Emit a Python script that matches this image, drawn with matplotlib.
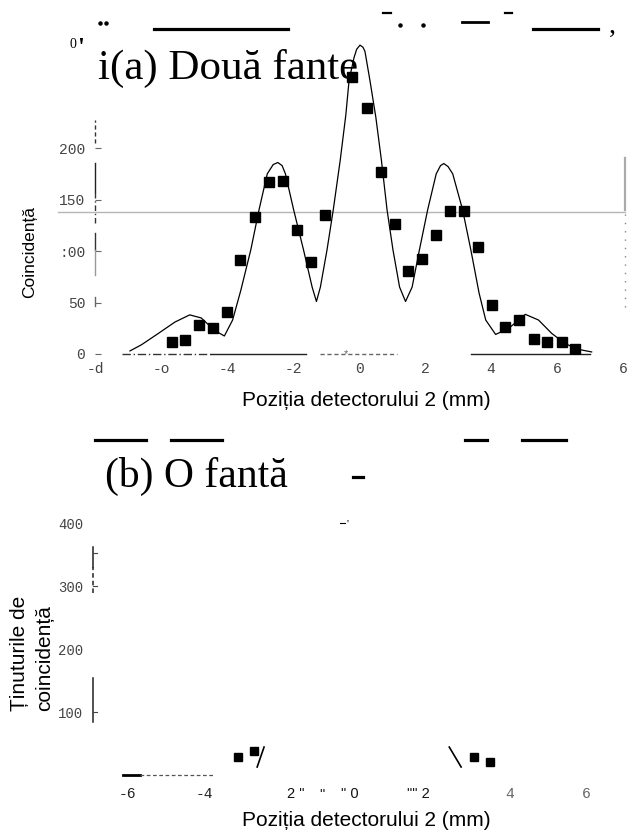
import matplotlib
matplotlib.use("Agg")
import matplotlib.pyplot as plt
from matplotlib.lines import Line2D

W, H = 631, 833
DPI = 100

# ---------------- Panel (a): two slits ----------------
a_x = [-5.68, -5.27, -4.85, -4.43, -4.00, -3.60, -3.16, -2.73, -2.30, -1.89, -1.45, -1.04,
       -0.20, 0.24, 0.66, 1.08, 1.49, 1.90, 2.34, 2.76, 3.19, 3.61, 4.02, 4.43, 4.84, 5.29,
       5.70, 6.14, 6.55]
a_y = [12, 14, 28, 25, 41, 91, 133, 167, 168, 120, 89, 135,
       269, 239, 177, 126, 81, 92, 116, 139, 139, 104, 48, 26, 33, 15,
       12, 12, 5]
a_fit_x = [-6.94, -6.59, -6.08, -5.58, -5.13, -4.78, -4.38, -4.08, -3.83, -3.58, -3.28, -3.03,
           -2.78, -2.60, -2.46, -2.33, -2.23, -1.98, -1.68, -1.42, -1.29, -1.17, -0.97, -0.78,
           -0.57, -0.40, -0.30, -0.15, -0.07, 0.03, 0.12, 0.18, 0.33, 0.51, 0.68, 0.85, 1.03,
           1.23, 1.41, 1.61, 1.83, 2.08, 2.34, 2.47, 2.57, 2.70, 2.84, 3.14, 3.39, 3.64, 3.84,
           4.14, 4.54, 5.04, 5.44, 5.84, 6.25, 6.65, 7.05]
a_fit_y = [3, 9, 20, 31, 38, 35, 23, 17.5, 33, 62, 101, 140,
           175, 184, 186, 183, 175, 140, 101, 65, 51, 65, 101, 140,
           188, 232, 266, 288, 296, 300, 298, 294, 266, 230, 188, 140, 101,
           65, 51, 65, 101, 140, 175, 183, 185, 182, 175, 140, 101, 59, 33,
           19, 25, 38.5, 33, 20, 10, 4.5, 2]
a_ref_level = 138
a_xticks = [-8, -6, -4, -2, 0, 2, 4, 6, 8]
a_xticklabels = ["-d", "-o", "-4", "-2", "0", "2", "4", "6", "6"]
a_yticks = [0, 50, 100, 150, 200]
a_yticklabels = ["0", "50", ":00", "150", "200"]

# ---------------- Panel (b): one slit ----------------
b_x = [-3.11, -2.69, 3.06, 3.48]
b_y = [28.6, 38, 28.6, 20.6]
b_fit_left_x = [-2.61, -2.43]
b_fit_left_y = [12.7, 44.4]
b_fit_right_x = [2.41, 2.72]
b_fit_right_y = [44.4, 12.7]
b_xticks = [-6, -4, -1.6, -0.92, -0.18, 1.6, 4, 6]
b_xticklabels = ["-6", "-4", '2 "', '"', '" 0', '"" 2', "4", "6"]
b_yticks = [100, 200, 300, 400]
b_yticklabels = ["100", "200", "300", "400"]

SANS = "Liberation Sans"
SERIF = "Liberation Serif"
MONO = "Liberation Mono"


def fx(px):
    return px / W


def fy(py):
    return 1 - py / H


fig = plt.figure(figsize=(W / DPI, H / DPI), dpi=DPI)

# ======== Top axes ========
ax = fig.add_axes([fx(95), fy(354), (623 - 95) / W, 314 / H])
ax.set_xlim(-8, 8)
ax.set_ylim(0, 305)
for s in ax.spines.values():
    s.set_visible(False)
ax.plot(a_fit_x, a_fit_y, color="black", lw=0.9, zorder=3)
ax.plot(a_x, a_y, ls="none", marker="s", ms=7, color="black", zorder=4)
ax.set_xticks(a_xticks)
ax.set_xticklabels(a_xticklabels, family=MONO, fontsize=10.5, color="#444")
ax.set_yticks(a_yticks)
ax.set_yticklabels(a_yticklabels, family=MONO, fontsize=10.5, color="#444")
ax.tick_params(axis="x", length=0, pad=6)
ax.tick_params(axis="y", direction="in", length=4, width=0.8, color="#666", pad=7)

# broken left spine
ytr = ax.get_yaxis_transform()
for (y0, y1, ls, c) in [(205, 227, (0, (3, 2)), "#333"), (157, 186, "-", "#222"),
                        (127, 157, (0, (4, 2, 1, 2)), "#333"), (101, 118, "-", "#333"),
                        (77, 101, "-", "#999"), (47, 55, "-", "#666")]:
    ax.plot([0, 0], [y0, y1], transform=ytr, color=c, lw=1, ls=ls, clip_on=False)
# right fragments
ax.plot([1.004, 1.004], [140, 190], transform=ytr, color="#aaa", lw=1.6, clip_on=False)
ax.plot([1.004, 1.004], [46, 140], transform=ytr, color="#888", lw=1, ls=(0, (1, 5)), clip_on=False)
# grey reference line
ax.plot([-0.07, 1.004], [a_ref_level, a_ref_level], transform=ytr, color="#b5b5b5", lw=1, clip_on=False)
# broken bottom axis
for (x0, x1, ls, c) in [(-7.19, -4.48, (0, (6, 2, 1, 2)), "#333"), (-4.48, -1.62, "-", "#222"),
                        (-1.17, 1.14, (0, (3, 2)), "#666"), (3.40, 7.0, "-", "#222")]:
    ax.plot([x0, x1], [0, 0], color=c, lw=1, ls=ls, clip_on=False)
ax.text(-0.39, 0, "*", ha="center", va="center", fontsize=8, color="#666", family=SANS)

fig.text(fx(30), fy(252), "Coincidență", rotation=90, ha="center", va="center",
         family=SANS, fontsize=12.5)
fig.text(fx(366), fy(401), "Poziția detectorului 2 (mm)", ha="center", va="center",
         family=SANS, fontsize=15)

# ======== Bottom axes ========
bx = fig.add_axes([fx(93), fy(775), (623 - 93) / W, 258 / H])
bx.set_xlim(-6.9, 6.95)
bx.set_ylim(0, 410)
for s in bx.spines.values():
    s.set_visible(False)
bx.plot(b_x, b_y, ls="none", marker="s", ms=6, color="black")
bx.plot(b_fit_left_x, b_fit_left_y, color="black", lw=1.2)
bx.plot(b_fit_right_x, b_fit_right_y, color="black", lw=1.2)
bx.set_xticks(b_xticks)
bx.set_xticklabels(b_xticklabels, fontsize=10.5)
for lab, fam, col in zip(bx.get_xticklabels(),
                         [MONO, MONO, SANS, SANS, SANS, SANS, MONO, MONO],
                         ["#222", "#222", "#111", "#111", "#111", "#111", "#666", "#666"]):
    lab.set_family(fam)
    lab.set_color(col)
bx.set_yticks(b_yticks)
bx.set_yticklabels(b_yticklabels, family=MONO, fontsize=10, color="#444")
bx.tick_params(axis="x", length=0, pad=9)
bx.tick_params(axis="y", length=0, pad=7)
bytr = bx.get_yaxis_transform()
for (y0, y1, ls) in [(330, 363, "-"), (290, 330, (0, (3, 2))), (84, 154, "-")]:
    bx.plot([0, 0], [y0, y1], transform=bytr, color="#222", lw=1.1, ls=ls, clip_on=False)
for yv in [100, 300, 352]:
    bx.plot([0, 0.008], [yv, yv], transform=bytr, color="#444", lw=0.8, clip_on=False)
bx.plot([-6.12, -5.67], [0, 0], color="black", lw=2, clip_on=False)
bx.plot([-5.67, -3.76], [0, 0], color="#555", lw=0.9, ls=(0, (3, 2)), clip_on=False)

fig.text(fx(20), fy(653), "Ținuturile de", rotation=90, ha="center", va="center",
         family=SANS, fontsize=15)
fig.text(fx(45), fy(658), "coincidență", rotation=90, ha="center", va="center",
         family=SANS, fontsize=15)
fig.text(fx(366), fy(821), "Poziția detectorului 2 (mm)", ha="center", va="center",
         family=SANS, fontsize=15)

# ======== Titles and scan fragments ========
fig.text(fx(98), fy(79), "i(a) Două fante", ha="left", va="baseline", family=SERIF, fontsize=31)
fig.text(fx(70), fy(48), "0", ha="left", va="baseline", family=SERIF, fontsize=10)
fig.text(fx(77), fy(55), "'", ha="left", va="baseline", family=SERIF, fontsize=18, weight="bold")
fig.text(fx(105), fy(487), "(b) O fantă", ha="left", va="baseline", family=SERIF, fontsize=30)

for (x0, x1, y, lw) in [(154, 288, 29, 2.3), (462, 488, 22, 2.0), (533, 598, 29, 2.3),
                        (95, 146, 440, 2.3), (171, 222, 440, 2.3), (465, 487, 440, 2.3),
                        (522, 566, 440, 2.3), (383, 391, 13, 1.6), (505, 512, 13, 1.6),
                        (353, 363, 477, 2.3), (340, 345, 523, 0.8)]:
    fig.add_artist(Line2D([fx(x0), fx(x1)], [fy(y), fy(y)], color="black", lw=lw))
for (x, y) in [(100, 23), (106, 23), (400, 25), (423, 25)]:
    fig.add_artist(Line2D([fx(x)], [fy(y)], marker="o", ms=2.2, color="black", ls="none"))
fig.text(fx(609), fy(33), ",", ha="left", va="baseline", family=SERIF, fontsize=20)
fig.text(fx(347), fy(527), "'", ha="left", va="baseline", family=SERIF, fontsize=8)

fig.savefig("out.png", dpi=DPI)
